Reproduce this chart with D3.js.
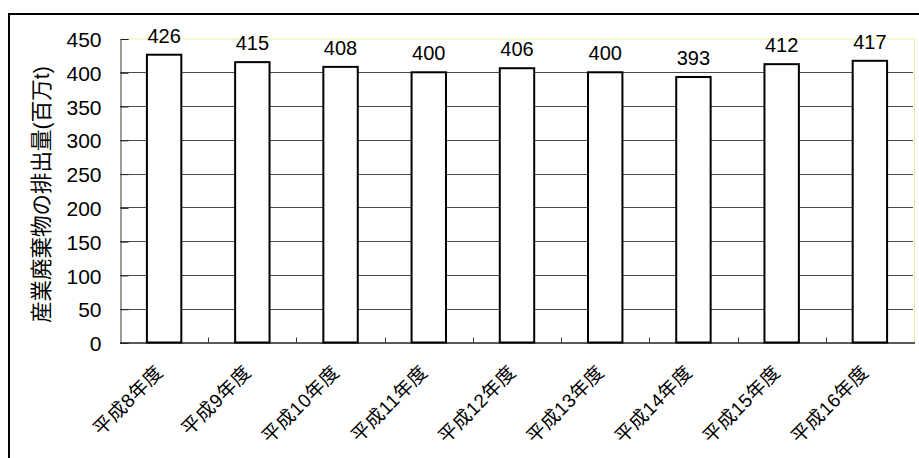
<!DOCTYPE html>
<html>
<head>
<meta charset="utf-8">
<script src="https://cdn.jsdelivr.net/npm/d3@7"></script>
<style>
  html, body { margin: 0; padding: 0; background: #fff; }
  svg { display: block; }
  text { font-family: "Liberation Sans", Arial, "Noto Sans CJK JP", sans-serif; fill: #000; }
</style>
</head>
<body>
<svg id="chart" width="919" height="458"></svg>
<script>
// 産業廃棄物の排出量（百万t）年度別
const categories = ["平成8年度", "平成9年度", "平成10年度", "平成11年度", "平成12年度",
                    "平成13年度", "平成14年度", "平成15年度", "平成16年度"];
const values = [426, 415, 408, 400, 406, 400, 393, 412, 417];
const yTicks = [0, 50, 100, 150, 200, 250, 300, 350, 400, 450];
const yTitle = "産業廃棄物の排出量(百万t)";

const svg = d3.select("#chart");
const plot = { left: 120, right: 914, top: 38.5, bottom: 342.5 };

// outer frame (right and bottom edges fall outside the canvas)
svg.append("rect")
  .attr("x", 9).attr("y", 14)
  .attr("width", 930).attr("height", 470)
  .attr("fill", "#fff").attr("stroke", "#000").attr("stroke-width", 2);

const x = d3.scaleBand().domain(categories).range([plot.left, plot.right]).padding(0);
const y = d3.scaleLinear().domain([0, 450]).range([plot.bottom, plot.top]);

// plot area border: pale top/right edges
svg.append("path")
  .attr("d", `M${plot.left},${plot.top + 0.5}H${plot.right + 0.5}V${plot.bottom}`)
  .attr("fill", "none").attr("stroke", "#eeeea0").attr("stroke-width", 1);

// horizontal gridlines
svg.append("g").selectAll("line")
  .data(yTicks.filter(d => d > 0 && d < 450))
  .join("line")
  .attr("x1", plot.left).attr("x2", plot.right - 1)
  .attr("y1", d => Math.round(y(d)) + 0.5).attr("y2", d => Math.round(y(d)) + 0.5)
  .attr("stroke", "#4a4a4a").attr("stroke-width", 1);

// left axis with inward ticks
const yAxis = d3.axisLeft(y).tickValues(yTicks).tickSize(-8).tickPadding(18);
const gy = svg.append("g").attr("transform", `translate(${plot.left + 0.5},0.5)`).call(yAxis);
gy.select(".domain").attr("stroke", "#3a3a2a");
gy.selectAll(".tick line").attr("stroke", "#222");
gy.selectAll(".tick text").attr("font-size", 21).attr("dy", "0.36em")
  .attr("x", -19);

// bottom axis: small upward ticks at category boundaries
svg.append("line")
  .attr("x1", plot.left).attr("x2", plot.right + 1)
  .attr("y1", plot.bottom + 0.5).attr("y2", plot.bottom + 0.5)
  .attr("stroke", "#222").attr("stroke-width", 1.5);
svg.append("g").selectAll("line")
  .data(categories.slice(1))
  .join("line")
  .attr("x1", d => Math.round(x(d)) + 0.5).attr("x2", d => Math.round(x(d)) + 0.5)
  .attr("y1", plot.bottom).attr("y2", plot.bottom - 5)
  .attr("stroke", "#333");

// bars
const barW = x.bandwidth() * 0.39;
svg.append("g").selectAll("rect")
  .data(values)
  .join("rect")
  .attr("x", (d, i) => x(categories[i]) + (x.bandwidth() - barW) / 2)
  .attr("y", d => y(d))
  .attr("width", barW)
  .attr("height", d => plot.bottom - y(d))
  .attr("fill", "#fff").attr("stroke", "#000").attr("stroke-width", 2);

// value labels
svg.append("g").selectAll("text")
  .data(values)
  .join("text")
  .attr("x", (d, i) => x(categories[i]) + x.bandwidth() / 2)
  .attr("y", d => y(d) - 12)
  .attr("text-anchor", "middle")
  .attr("font-size", 20)
  .text(d => d);

// category labels, rotated
svg.append("g").selectAll("text")
  .data(categories)
  .join("text")
  .attr("transform", d => `translate(${x(d) + x.bandwidth() / 2},${plot.bottom + 31}) rotate(-45)`)
  .attr("text-anchor", "end")
  .attr("font-size", 19)
  .attr("letter-spacing", 0.5)
  .text(d => d);

// y-axis title
svg.append("text")
  .attr("transform", `translate(49,${(plot.top + plot.bottom) / 2 + 4}) rotate(-90)`)
  .attr("text-anchor", "middle")
  .attr("font-size", 21.5)
  .text(yTitle);
</script>
</body>
</html>
